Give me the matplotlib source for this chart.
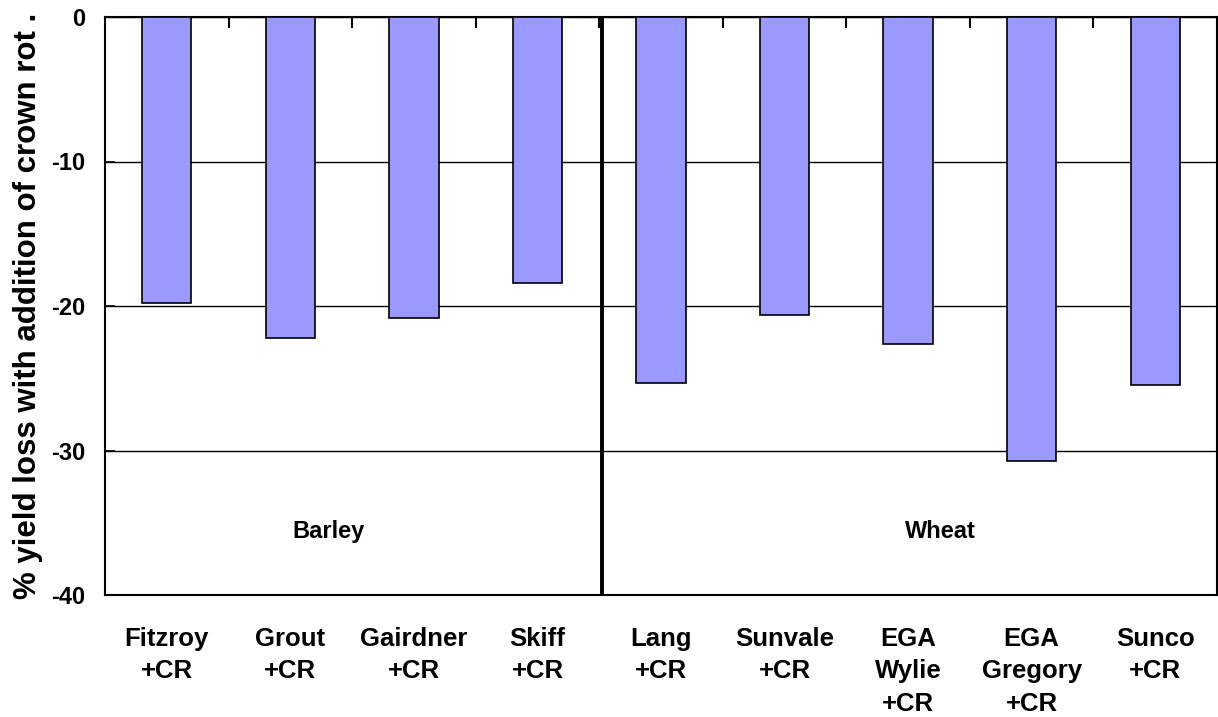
import matplotlib.pyplot as plt
import numpy as np

plt.rcParams['font.family'] = ['Liberation Sans', 'DejaVu Sans']
plt.rcParams['font.weight'] = 'bold'
plt.rcParams['axes.unicode_minus'] = False

# data
varieties = ["Fitzroy\n+CR", "Grout\n+CR", "Gairdner\n+CR", "Skiff\n+CR",
             "Lang\n+CR", "Sunvale\n+CR", "EGA\nWylie\n+CR", "EGA\nGregory\n+CR", "Sunco\n+CR"]
yield_loss = [-19.8, -22.2, -20.8, -18.4, -25.3, -20.6, -22.6, -30.7, -25.5]
groups = ["Barley", "Wheat"]
group_x = [1.31, 6.26]

fig = plt.figure(figsize=(12.18, 7.17), dpi=100)
ax = fig.add_axes([105/1218, 1 - 595/717, 1112/1218, 578/717])

x = np.arange(len(varieties))
ax.bar(x, yield_loss, width=0.4, color="#9999FF", edgecolor="black", linewidth=1.2, zorder=3)

ax.set_xlim(-0.5, len(varieties) - 0.5)
ax.set_ylim(-40, 0)
ax.set_yticks([0, -10, -20, -30, -40])
ax.set_yticklabels(["0", "-10", "-20", "-30", "-40"], fontsize=17, fontweight="bold")
ax.yaxis.grid(True, color="black", linewidth=1.0, zorder=0)
ax.tick_params(axis="y", direction="in", length=7, width=1.2, pad=14)

ax.set_xticks(x)
ax.set_xticklabels(varieties, fontsize=18.5, fontweight="bold", linespacing=1.45)
ax.tick_params(axis="x", which="major", length=0, pad=23)
ax.set_xticks(np.arange(0.5, len(varieties) - 0.5), minor=True)
ax.tick_params(axis="x", which="minor", top=True, bottom=False, direction="in", length=8, width=1.5)

for s in ax.spines.values():
    s.set_linewidth(1.5)

# separator between barley and wheat
ax.axvline(3.52, color="black", linewidth=2.8, zorder=4)

for g, gx in zip(groups, group_x):
    ax.text(gx, -35.6, g, ha="center", va="center", fontsize=17, fontweight="bold")

ax.set_ylabel("% yield loss with addition of crown rot .", fontsize=22.5, fontweight="bold", labelpad=6)

fig.savefig("out.png", dpi=100)
